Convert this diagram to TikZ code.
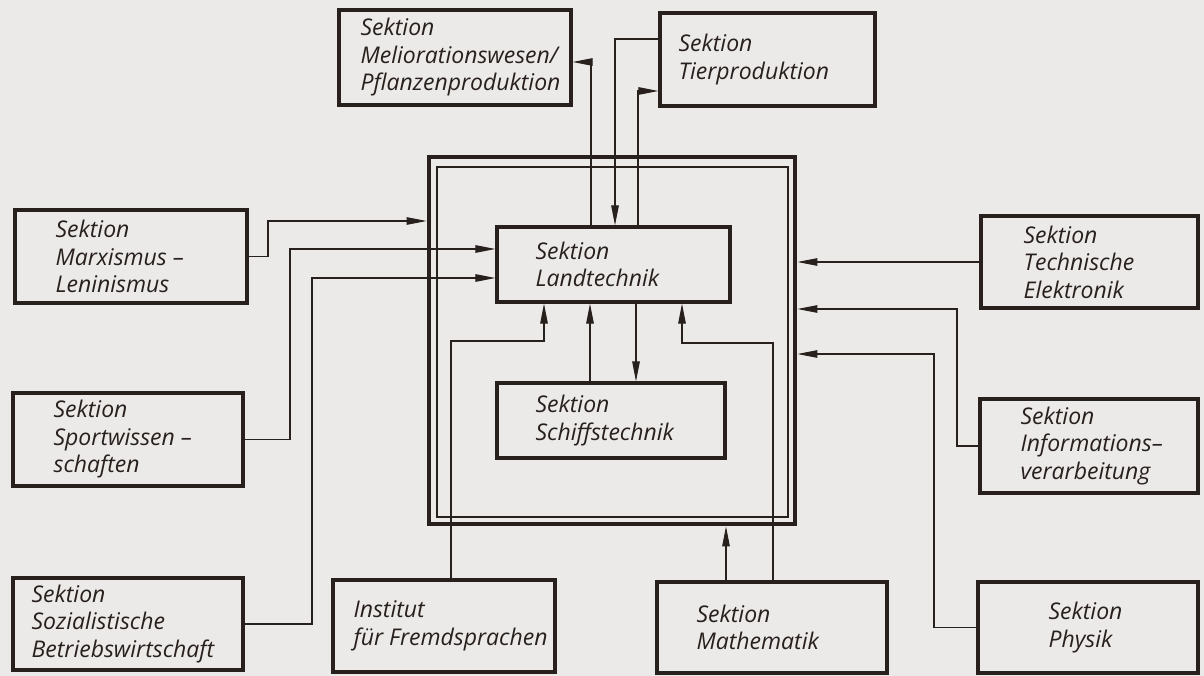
\documentclass[tikz,border=0pt]{standalone}
\usepackage{fontspec}
\setmainfont{Open Sans}
\usetikzlibrary{arrows.meta,calc}
\definecolor{paper}{RGB}{235,234,232}
\definecolor{ink}{RGB}{40,32,29}
\newcommand\mkbox[7]{%
  \node[box, minimum width={#4pt-#2pt}, minimum height={#5pt-#3pt}] (#1) at ({(#2+#4)/2},{(#3+#5)/2}) {};
  \node[lbl] (#1t) at ([xshift=#6pt]#1.west) {#7};}
\tikzset{
  box/.style={draw=ink, line width=3.2pt, rectangle, inner sep=0pt},
  lbl/.style={anchor=west, align=left, inner sep=0pt, text=ink,
    font=\itshape\fontsize{23}{27.5}\selectfont},
  conn/.style={draw=ink, line width=1.1pt},
  arr/.style={conn, -{Triangle[length=20pt,width=7.5pt]}},
}
\begin{document}
\begin{tikzpicture}[x=1pt,y=-1pt]
\fill[paper] (0,0) rectangle (1204,676);
\useasboundingbox (0,0) rectangle (1204,676);
% frames
\node[draw=ink, line width=4.8pt, inner sep=0pt, minimum width=366pt, minimum height=367pt] (outer) at (612,340.5) {};
\node[draw=ink, line width=2.2pt, inner sep=0pt, minimum width=351pt, minimum height=350pt] (inner) at (612.5,342) {};
% boxes
\mkbox{mel}{339}{10}{571}{105}{23}{Sektion\\Meliorationswesen/\\Pflanzenproduktion}
\mkbox{tier}{660}{13}{875}{106}{20}{Sektion\\Tierproduktion}
\mkbox{mx}{15}{210}{247}{303}{42}{Sektion\\Marxismus –\\Leninismus}
\mkbox{sp}{13}{393}{243}{486}{42}{Sektion\\Sportwissen –\\schaften}
\mkbox{soz}{13}{578}{243}{670}{20}{Sektion\\Sozialistische\\Betriebswirtschaft}
\mkbox{inst}{333}{580}{555}{672}{22}{Institut\\für Fremdsprachen}
\mkbox{math}{657}{582}{887}{673}{41}{Sektion\\Mathematik}
\mkbox{phys}{978}{582}{1198}{673}{72}{Sektion\\Physik}
\mkbox{te}{981}{216}{1198}{308}{44}{Sektion\\Technische\\Elektronik}
\mkbox{inf}{980}{399}{1198}{493}{42}{Sektion\\Informations–\\verarbeitung}
\mkbox{land}{497}{227}{730}{302}{40}{Sektion\\Landtechnik}
\mkbox{schiff}{497}{383}{725}{458}{40}{Sektion\\Schiffstechnik}
% bend points
\coordinate (k1) at (268,221);
\coordinate (k2) at (290,249);
\coordinate (k3) at (312,278);
\coordinate (k4) at (451,341);
\coordinate (k5) at (544,341);
\coordinate (k6) at (726,0);
\coordinate (k7) at (773,343);
\coordinate (k8) at (682,343);
\coordinate (k9) at (590,0);
\coordinate (k10) at (636,0);
\coordinate (k11) at (591,62);
\coordinate (k12) at (615,39);
\coordinate (k13) at (638,91);
\coordinate (k14) at (957,309);
\coordinate (k15) at (934,354);
% connectors
\draw[arr] (mx.east) -| (k1) -- (outer.west |- k1);
\draw[arr] (sp.east) -| (k2) -- (land.west |- k2);
\draw[arr] (soz.east) -| (k3) -- (land.west |- k3);
\draw[arr] (inst.north -| k4) -- (k4) -- (k5) -- (land.south -| k5);
\draw[arr] (math.north -| k6) -- (outer.south -| k6);
\draw[arr] (math.north -| k7) -- (k7) -- (k8) -- (land.south -| k8);
\draw[arr] (schiff.north -| k9) -- (land.south -| k9);
\draw[arr] (land.south -| k10) -- (schiff.north -| k10);
\draw[arr] (land.north -| k11) -- (k11) -- (mel.east |- k11);
\draw[arr] (tier.west |- k12) -- (k12) -- (land.north -| k12);
\draw[arr] (land.north -| k13) -- (k13) -- (tier.west |- k13);
\draw[arr] (te.west) -- (outer.east |- te.west);
\draw[arr] (inf.west) -| (k14) -- (outer.east |- k14);
\draw[arr] (phys.west) -| (k15) -- (outer.east |- k15);
\end{tikzpicture}
\end{document}
